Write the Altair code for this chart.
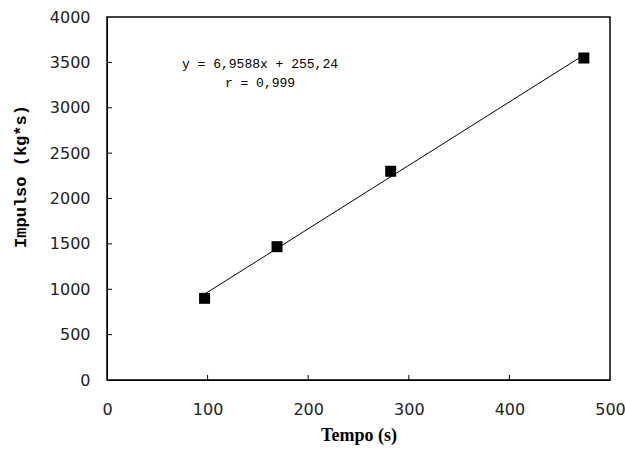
import altair as alt
import pandas as pd

tempo = [97, 169, 282, 474]
impulso = [900, 1469, 2300, 3548]
x_ticks = [0, 100, 200, 300, 400, 500]
y_ticks = [0, 500, 1000, 1500, 2000, 2500, 3000, 3500, 4000]
eq_lines = ["y = 6,9588x + 255,24", "r = 0,999"]

df = pd.DataFrame({"Tempo": tempo, "Impulso": impulso})
W, H = 503, 363

xs = alt.Scale(domain=[0, 500], nice=False)
ys = alt.Scale(domain=[0, 4000], nice=False)

x_axis = alt.Axis(values=x_ticks, title="Tempo (s)", grid=False, ticks=False, format="d",
                  labelFont="DejaVu Sans", labelFontSize=16, labelColor="#222",
                  labelPadding=21, titleFont="Liberation Serif", titleFontSize=18,
                  titleFontWeight="bold", titleColor="#000", titlePadding=9,
                  domainColor="#000", labelFlush=False)
y_axis = alt.Axis(values=y_ticks, title="Impulso (kg*s)", grid=False, ticks=False, format="d",
                  labelFont="DejaVu Sans", labelFontSize=16, labelColor="#222",
                  labelPadding=17, titleFont="Liberation Mono", titleFontSize=17,
                  titleFontWeight="bold", titleColor="#000",
                  titleX=-87, titleY=159, titleAngle=270, titleBaseline="middle",
                  domainColor="#000", labelFlush=False)

base = alt.Chart(df)

trend = base.transform_regression("Tempo", "Impulso").mark_line(
    color="#000", strokeWidth=1).encode(
    x=alt.X("Tempo:Q", scale=xs, axis=x_axis),
    y=alt.Y("Impulso:Q", scale=ys, axis=y_axis),
)

points = base.mark_square(size=121, color="#000", opacity=1).encode(
    x=alt.X("Tempo:Q", scale=xs, axis=x_axis),
    y=alt.Y("Impulso:Q", scale=ys, axis=y_axis),
)

xt = alt.Chart(pd.DataFrame({"Tempo": x_ticks[1:-1]})).mark_rule(color="#000", strokeWidth=1).encode(
    x=alt.X("Tempo:Q", scale=xs, axis=x_axis), y=alt.value(H), y2=alt.value(H - 5))
yt = alt.Chart(pd.DataFrame({"Impulso": y_ticks[1:-1]})).mark_rule(color="#000", strokeWidth=1).encode(
    y=alt.Y("Impulso:Q", scale=ys, axis=y_axis), x=alt.value(0), x2=alt.value(5))

eq = alt.Chart(pd.DataFrame({"t": ["\n".join(eq_lines)]})).mark_text(
    font="Liberation Mono", fontSize=13, color="#000", align="center", baseline="top",
    lineBreak="\n", lineHeight=19
).encode(
    text="t:N",
    x=alt.value(153),
    y=alt.value(41),
)

chart = alt.layer(trend, points, xt, yt, eq).properties(
    width=W, height=H,
    background="white",
    autosize=alt.AutoSizeParams(type="none"),
    padding={"left": 107, "top": 17, "right": 15, "bottom": 70},
).configure_view(stroke="#000", strokeWidth=1.5).configure_axis(grid=False)

chart.save("out.html", embed_options={"renderer": "svg", "actions": False})
